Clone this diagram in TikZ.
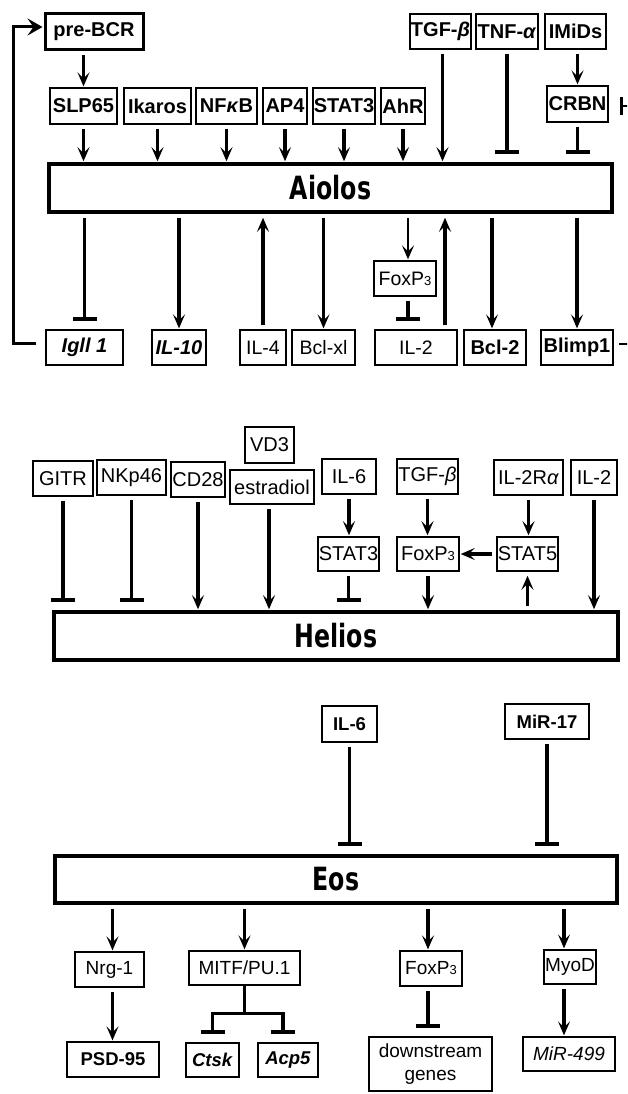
\documentclass[tikz,border=0pt]{standalone}
\usepackage{fontspec}
\setmainfont{Liberation Sans}
\newfontfamily\bigfont{DejaVu Sans}
\usepackage{graphicx}
\usetikzlibrary{arrows.meta,calc}
\newcommand\fox{FoxP{\fontsize{13}{13}\selectfont 3}}
\newcommand\bigtxt[1]{\scalebox{0.74}[1]{\bigfont\fontsize{32}{32}\selectfont\bfseries #1}}
\newcommand\pbox[6]{\node[#6, minimum width={(#4-#2)*1pt}, minimum height={(#5-#3)*1pt}] (#1) at ({(#2+#4)/2},{(#3+#5)/2})}
\begin{document}
\begin{tikzpicture}[x=1pt,y=-1pt,
  box/.style={draw, line width=1.3pt, inner sep=0pt, align=center, font=\fontsize{19.5}{22}\selectfont},
  bx/.style={box, font=\fontsize{20}{22}\selectfont\bfseries},
  bxthick/.style={bx, line width=3pt},
  hb/.style={box, line width=1.5pt, font=\fontsize{20}{22}\selectfont},
  eb/.style={box, font=\fontsize{18.5}{22}\selectfont\bfseries},
  es/.style={box, font=\fontsize{19}{23}\selectfont},
  big/.style={draw, line width=3.5pt, inner sep=0pt},
  arr/.style={line width=3.6pt, -{Stealth[length=14pt,width=12pt,inset=6pt]}, shorten <=4pt, shorten >=1pt},
  uparr/.style={arr, shorten >=4pt},
  inh/.style={line width=3.6pt, -{Bar[width=24pt,line width=4.6pt]}, shorten <=4pt, shorten >=8pt},
  fbline/.style={line width=3pt, -{Stealth[length=15pt,width=17pt,inset=6pt]}},
  plain/.style={line width=3.6pt}
]
\clip (0,0) rectangle (627,1094);
\fill[white] (0,0) rectangle (627,1094);

% ---------------- Aiolos ----------------
\pbox{prebcr}{45}{14}{143}{50}{bxthick} {pre-BCR};
\pbox{slp}{50}{88}{117}{124}{bx} {SLP65};
\pbox{ika}{124}{88}{191}{124}{bx} {Ikaros};
\pbox{nfkb}{196}{88}{257}{124}{bx} {NF\textit{κ}B};
\pbox{ap4}{263}{88}{307}{124}{bx} {AP4};
\pbox{statA}{313}{88}{375}{124}{bx} {STAT3};
\pbox{ahr}{381}{88}{425}{124}{bx} {AhR};
\pbox{tgfA}{410}{14}{471}{49}{bx} {TGF-\textit{β}};
\pbox{tnf}{476}{14}{538}{49}{bx} {TNF-\textit{α}};
\pbox{imids}{545}{14}{606}{49}{bx} {IMiDs};
\pbox{crbn}{547}{86}{608}{122}{bx} {CRBN};
\pbox{aiolos}{49}{164}{612}{212}{big} {\bigtxt{Aiolos}};
\pbox{foxA}{374}{261}{436}{296}{box} {\fox};
\pbox{igll}{46}{330}{123}{365}{bx} {\textit{Igll 1}};
\pbox{il10}{152}{330}{206}{365}{bx} {\textit{IL-10}};
\pbox{il4}{240}{330}{286}{365}{box} {IL-4};
\pbox{bclxl}{292}{330}{355}{365}{box} {Bcl-xl};
\pbox{il2A}{375}{330}{457}{365}{box} {IL-2};
\pbox{bcl2}{464}{330}{526}{365}{bx} {Bcl-2};
\pbox{blimp}{541}{330}{613}{365}{bx} {Blimp1};

\draw[arr, line width=2.8pt] (prebcr.south -| slp.north) -- (slp.north);
\foreach \n in {slp,ika,nfkb,ap4,statA,ahr}
  \draw[arr] (\n.south) -- (\n.south |- aiolos.north);
\draw[arr] ([xshift=2pt]tgfA.south) -- ([xshift=2pt]tgfA.south |- aiolos.north);
\draw[inh] (tnf.south) -- (tnf.south |- aiolos.north);
\draw[arr, line width=2.8pt] (imids.south -| crbn.north) -- (crbn.north);
\draw[inh] (crbn.south) -- (crbn.south |- aiolos.north);

\draw[inh] (igll.north |- aiolos.south) -- (igll.north);
\draw[arr] (il10.north |- aiolos.south) -- (il10.north);
\draw[uparr] (il4.north) -- (il4.north |- aiolos.south);
\draw[arr] (bclxl.north |- aiolos.south) -- (bclxl.north);
\draw[arr, line width=2.8pt] ([xshift=3pt]foxA.north |- aiolos.south) -- ([xshift=3pt]foxA.north);
\draw[inh] ([xshift=3pt]foxA.south) -- ([xshift=3pt]foxA.south |- il2A.north);
\draw[uparr] ([xshift=29pt]il2A.north) -- ([xshift=29pt]il2A.north |- aiolos.south);
\draw[arr] ([xshift=-3pt]bcl2.north |- aiolos.south) -- ([xshift=-3pt]bcl2.north);
\draw[arr] (blimp.north |- aiolos.south) -- (blimp.north);

% feedback loop
\coordinate (fbL) at (13.5,343);
\draw[fbline] ([yshift=4.5pt,xshift=-9pt]igll.west) -- (fbL) |- ([yshift=5pt,xshift=-1pt]prebcr.west);

% cut-off marks at the right edge
\coordinate (edgeA) at (640,106);
\draw[line width=2.8pt, -{Bar[width=18pt,line width=3.4pt]}, shorten >=11pt] (edgeA) -- (edgeA -| crbn.east);
\coordinate (edgeB) at (640,344);
\draw[line width=2.8pt, shorten >=5pt] (edgeB) -- (edgeB -| blimp.east);

% ---------------- Helios ----------------
\pbox{gitr}{33}{461}{93}{496}{hb} {GITR};
\pbox{nkp}{97}{460}{166}{495}{hb} {NKp46};
\pbox{cd28}{171}{462}{225}{497}{hb} {CD28};
\pbox{vd3}{245}{427}{294}{463}{hb} {VD3};
\pbox{estr}{230}{470}{314}{504}{hb} {estradiol};
\pbox{il6H}{322}{459}{376}{494}{hb} {IL-6};
\pbox{tgfH}{397}{459}{458}{494}{hb} {TGF-\textit{β}};
\pbox{il2ra}{494}{460}{563}{495}{hb} {IL-2R\textit{α}};
\pbox{il2H}{571}{460}{617}{495}{hb} {IL-2};
\pbox{statH}{318}{537}{379}{571}{hb} {STAT3};
\pbox{foxH}{397}{537}{459}{571}{hb} {\fox};
\pbox{stat5}{497}{537}{558}{571}{hb} {STAT5};
\pbox{helios}{54}{612}{618}{660}{big} {\bigtxt{Helios}};

\draw[inh] (gitr.south) -- (gitr.south |- helios.north);
\draw[inh] (nkp.south) -- (nkp.south |- helios.north);
\draw[arr] (cd28.south) -- (cd28.south |- helios.north);
\draw[arr] ([xshift=-3pt]estr.south) -- ([xshift=-3pt]estr.south |- helios.north);
\draw[arr] (il6H.south) -- (il6H.south |- statH.north);
\draw[inh] (statH.south) -- (statH.south |- helios.north);
\draw[arr] (tgfH.south) -- (tgfH.south |- foxH.north);
\draw[arr] (foxH.south) -- (foxH.south |- helios.north);
\draw[arr] (il2ra.south) -- (il2ra.south |- stat5.north);
\draw[arr] (stat5.west) -- (foxH.east);
\draw[uparr] (stat5.south |- helios.north) -- (stat5.south);
\draw[arr] (il2H.south) -- (il2H.south |- helios.north);

% ---------------- Eos ----------------
\pbox{il6E}{322}{706}{377}{742}{eb} {IL-6};
\pbox{mir17}{505}{704}{589}{739}{eb} {MiR-17};
\pbox{eos}{55}{856}{617}{903}{big} {\bigtxt{Eos}};
\pbox{nrg}{75}{952}{144}{987}{es} {Nrg-1};
\pbox{mitf}{189}{951}{300}{985}{es} {MITF/PU.1};
\pbox{foxE}{400}{951}{462}{986}{es} {\fox};
\pbox{myod}{544}{950}{596}{984}{es} {MyoD};
\pbox{psd}{67}{1042}{159}{1077}{eb} {PSD-95};
\pbox{ctsk}{186}{1043}{239}{1077}{eb} {\textit{Ctsk}};
\pbox{acp}{258}{1043}{318}{1077}{eb} {\textit{Acp5}};
\pbox{down}{369}{1037}{492}{1091}{es} {downstream\\genes};
\pbox{mir499}{523}{1037}{615}{1071}{es} {\textit{MiR-499}};

\draw[inh] (il6E.south) -- (il6E.south |- eos.north);
\draw[inh] (mir17.south) -- (mir17.south |- eos.north);

\draw[arr] ([xshift=3pt]nrg.north |- eos.south) -- ([xshift=3pt]nrg.north);
\draw[arr] ([xshift=3pt]nrg.south) -- ([xshift=3pt]nrg.south |- psd.north);
\draw[arr] (mitf.north |- eos.south) -- (mitf.north);
\coordinate (mj) at ($(mitf.south)+(0,28)$);
\draw[plain] (mitf.south) -- ([yshift=-1.8pt]mj);
\draw[inh, shorten <=0pt] (mj) -| (ctsk.north);
\draw[inh, shorten <=0pt] (mj) -| ([xshift=-5pt]acp.north);
\draw[arr] ([xshift=-3pt]foxE.north |- eos.south) -- ([xshift=-3pt]foxE.north);
\draw[inh] ([xshift=-3pt]foxE.south) -- ([xshift=-3pt]foxE.south |- down.north);
\draw[arr] ([xshift=-6pt]myod.north |- eos.south) -- ([xshift=-6pt]myod.north);
\draw[arr] ([xshift=-6pt]myod.south) -- ([xshift=-6pt]myod.south |- mir499.north);
\end{tikzpicture}
\end{document}
